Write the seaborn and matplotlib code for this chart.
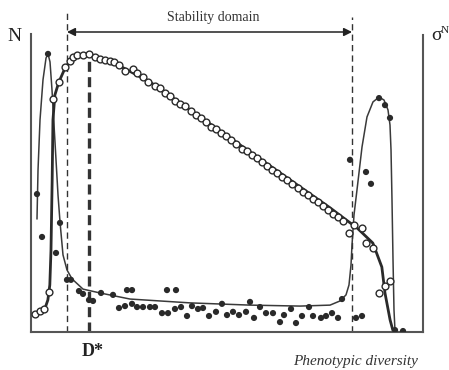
import matplotlib
matplotlib.use("Agg")
import matplotlib.pyplot as plt
import seaborn as sns
import pandas as pd

# ---- data (diversity 0-100, value 0-100) ----
n_pts_x = [1.0, 2.3, 3.3, 4.6, 5.6, 7.1, 8.7, 9.9, 10.7, 11.7, 13.3, 14.8, 16.3, 17.6,
           18.9, 20.2, 21.2, 22.4, 24.0, 26.0, 27.0, 28.6, 29.8,
           31.6, 32.9, 34.2, 35.5, 36.8, 38.1, 39.4, 40.7, 42.0, 43.3, 44.6, 45.9, 47.2,
           48.5, 49.8, 51.1, 52.4, 53.7, 55.0, 56.3, 57.6, 58.9, 60.2, 61.5, 62.8, 64.1,
           65.4, 66.7, 68.0, 69.3, 70.6, 71.9, 73.2, 74.5, 75.8, 77.1, 78.4, 79.7,
           81.1, 82.4, 84.4, 85.5, 87.2, 88.8, 90.3, 91.6]
n_pts_y = [5.6, 6.6, 7.2, 12.5, 72.8, 78.1, 82.8, 84.7, 85.9, 86.6, 86.6, 86.9, 85.9, 85.3,
           85.0, 84.7, 84.4, 83.4, 81.6, 82.2, 80.9, 79.7, 78.1,
           77.0, 76.1, 74.8, 73.6, 72.2, 71.3, 70.5, 69.0, 67.9, 66.9, 65.6, 64.1, 63.3,
           62.2, 61.3, 59.9, 58.7, 57.3, 56.5, 55.3, 54.5, 53.0, 51.9, 50.5, 49.6, 48.4,
           47.6, 46.2, 45.0, 43.6, 42.7, 41.6, 40.7, 39.3, 38.1, 36.8, 35.9, 34.7,
           30.9, 33.4, 32.5, 27.8, 26.3, 12.2, 14.4, 15.9]

n_line_x = [1.0, 2.3, 3.6, 4.3, 4.8, 5.1, 5.4, 5.6, 6.1, 7.1, 8.7, 10.5, 12.5, 14.8, 17.6,
            22.7, 30.4, 76.3, 80.1, 83.2, 87.2, 89.5, 90.3, 91.6, 92.3, 93.1]
n_line_y = [5.6, 6.6, 7.5, 10.0, 14.7, 25.6, 47.5, 66.3, 74.1, 78.1, 82.5, 85.6, 86.6, 86.9,
            85.6, 83.1, 78.1, 38.8, 35.3, 32.5, 27.8, 20.3, 12.2, 3.8, 0.6, 0.0]

s_line_x = [1.53, 1.79, 2.30, 3.06, 3.83, 4.34, 4.85, 5.36, 5.87, 6.38, 6.89, 7.40, 8.16,
            9.18, 10.46, 13.27, 17.60, 25.26, 40.56, 55.87, 68.62, 76.28, 78.83, 80.36,
            81.12, 81.63, 81.89, 82.40, 83.16, 84.44, 85.71, 87.24, 88.78, 90.05, 91.07,
            91.58, 91.84, 92.09, 92.35, 92.60, 92.86]
s_line_y = [35.3, 50.6, 66.3, 78.8, 85.6, 86.9, 84.4, 75.6, 64.7, 53.8, 42.8, 34.4, 24.1,
            19.4, 16.6, 13.4, 12.2, 10.3, 9.1, 8.4, 8.1, 8.4, 9.7, 11.6,
            14.7, 20.9, 27.2, 36.6, 44.4, 57.8, 67.2, 71.9, 73.4, 72.5, 69.4,
            64.7, 56.9, 41.3, 22.5, 6.9, 0.3]

s_pts_x = [1.53, 2.81, 4.34, 6.38, 7.40, 9.18, 10.20, 12.24, 13.27, 14.80, 15.82, 17.86,
           20.92, 24.49, 25.77, 22.45, 23.98, 25.77, 27.04, 28.57, 30.36, 31.63, 33.42,
           34.95, 34.69, 36.99, 36.73, 38.27, 39.80, 41.07, 42.60, 43.88, 45.41, 47.19,
           48.72, 50.00, 51.53, 53.06, 54.85, 55.87, 56.89, 58.42, 59.95, 61.73, 63.52,
           64.54, 66.33, 67.60, 69.13, 70.92, 71.94, 73.98, 75.26, 76.79, 78.32, 79.34,
           82.91, 84.44, 81.38, 85.46, 86.73, 88.78, 90.31, 91.58, 92.86, 94.90]
s_pts_y = [43.1, 29.7, 86.9, 24.7, 34.1, 16.3, 16.3, 12.8, 11.9, 10.0, 9.7, 12.2,
           11.6, 13.1, 13.1, 7.5, 8.1, 8.8, 7.8, 7.8, 7.8, 7.8, 5.9,
           5.9, 13.1, 13.1, 7.2, 7.8, 5.0, 8.1, 7.2, 7.5, 5.0, 6.3,
           8.8, 5.3, 6.3, 5.3, 6.3, 9.4, 4.4, 7.8, 5.9, 5.9, 3.1,
           5.3, 7.2, 2.8, 5.0, 7.8, 5.0, 4.4, 5.0, 5.9, 4.4, 10.3,
           4.4, 5.0, 53.8, 50.0, 46.3, 73.1, 70.9, 66.9, 0.6, 0.3]

domain_left, domain_right, d_star = 9.18, 81.9, 14.8

# ---- plot ----
sns.set_style("white")
plt.rcParams['font.family'] = ['Liberation Serif', 'DejaVu Serif']

fig = plt.figure(figsize=(4.49, 3.70), dpi=100)
ax = fig.add_axes([31/449, 1-332/370, 392/449, 320/370])

dark = '#2a2a2a'
sns.lineplot(x=s_line_x, y=s_line_y, ax=ax, color='#3a3a3a', lw=1.1, sort=False, estimator=None)
sns.lineplot(x=n_line_x, y=n_line_y, ax=ax, color=dark, lw=2.0, sort=False, estimator=None)
sns.scatterplot(x=s_pts_x, y=s_pts_y, ax=ax, color=dark, s=20, edgecolor='none', zorder=4)
sns.scatterplot(x=n_pts_x, y=n_pts_y, ax=ax, marker='o', facecolor='white', edgecolor=dark,
                linewidth=1.0, s=24, zorder=5)

ax.plot([domain_left, domain_left], [0, 100], color='#333333', lw=1.0, ls=(0, (4.5, 3)), clip_on=False)
ax.plot([domain_right, domain_right], [0, 98.4], color='#333333', lw=1.0, ls=(0, (4.5, 3)), clip_on=False)
ax.plot([d_star, d_star], [0, 85], color='#333333', lw=2.4, ls=(0, (3, 1.6)), clip_on=False)

ax.annotate('', xy=(domain_left, 93.75), xytext=(domain_right, 93.75),
            arrowprops=dict(arrowstyle='<|-|>', color='#222222', lw=1.1,
                            mutation_scale=12, shrinkA=0, shrinkB=0))
ax.text((domain_left + domain_right) / 2 + 1.0, 98.4, 'Stability domain', ha='center', va='center',
        fontsize=10, color='#333333')

ax.set_xlim(0, 100)
ax.set_ylim(0, 100)
ax.set_xticks([])
ax.set_yticks([])
ax.set_xlabel('')
ax.set_ylabel('')
for side in ['left', 'right', 'bottom']:
    ax.spines[side].set_color('#555555')
    ax.spines[side].set_linewidth(1.5)
ax.spines['top'].set_visible(False)
ax.spines['left'].set_bounds(0, 93.1)
ax.spines['right'].set_bounds(0, 92.8)

ax.text(-4.1, 92.2, 'N', ha='center', va='center', fontsize=14, color='#222222', clip_on=False)
ax.text(102.0, 92.6, 'σ', ha='left', va='center', fontsize=14, color='#222222', clip_on=False)
ax.text(104.6, 94.2, 'N', ha='left', va='center', fontsize=8, color='#222222', clip_on=False)
ax.text(15.8, -6.0, 'D*', ha='center', va='center', fontsize=13, fontweight='bold',
        color='#222222', clip_on=False)
ax.text(82.9, -9.1, 'Phenotypic diversity', ha='center', va='center', fontsize=11,
        style='italic', color='#333333', clip_on=False)

fig.savefig('out.png', dpi=100)
